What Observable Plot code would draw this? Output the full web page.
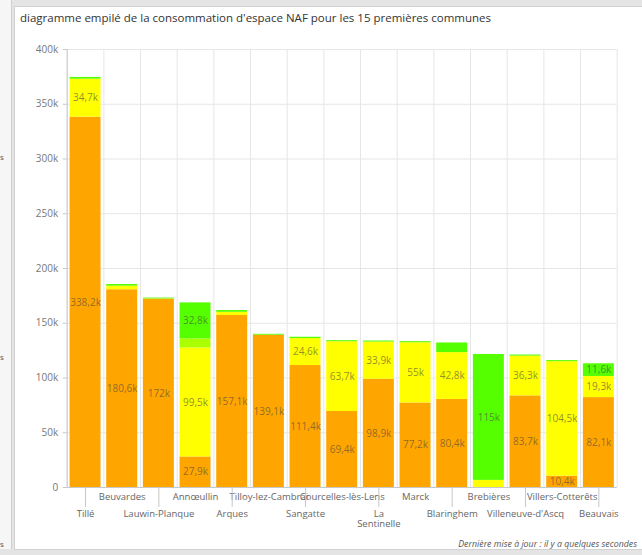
<!DOCTYPE html>
<html>
<head>
<meta charset="utf-8">
<script src="https://cdn.jsdelivr.net/npm/d3@7"></script>
<script src="https://cdn.jsdelivr.net/npm/@observablehq/plot@0.6"></script>
<style>
  html, body { margin: 0; padding: 0; }
  body { width: 642px; height: 555px; background: #e4e4e4; position: relative; overflow: hidden; font-family: "Open Sans", "Noto Sans", sans-serif; }
  #leftstrip { position: absolute; left: 0; top: 0; width: 11px; height: 549px; background: #f6f6f6; border-right: 1px solid #cfcfcf; overflow: hidden; }
  #leftstrip span { position: absolute; left: 0px; font-size: 8px; color: #555; }
  #panel { position: absolute; left: 14px; top: 6px; width: 640px; height: 542px; background: #fff; border: 1px solid #d2d2d2; }
  #title { position: absolute; left: 20px; top: 10px; font-size: 11.5px; color: #333; white-space: nowrap; }
  #chart { position: absolute; left: 0; top: 0; }
  #footer { position: absolute; right: 5px; top: 538px; font-size: 8.8px; font-style: italic; color: #555; white-space: nowrap; }
</style>
</head>
<body>
<div id="leftstrip"><span style="top:151px">s</span><span style="top:351px">s</span><span style="top:538px">s</span></div>
<div id="panel"></div>
<div id="title">diagramme empilé de la consommation d'espace NAF pour les 15 premières communes</div>
<div id="chart"></div>
<div id="footer">Dernière mise à jour : il y a quelques secondes</div>
<script>
// Communes (x categories)
const communes = ["Tillé", "Beuvardes", "Lauwin-Planque", "Annœullin", "Arques", "Tilloy-lez-Cambrai", "Sangatte", "Courcelles-lès-Lens", "La Sentinelle", "Marck", "Blaringhem", "Brebières", "Villeneuve-d'Ascq", "Villers-Cotterêts", "Beauvais"];
// Series (stack order bottom → top), values in thousands
const types = ["activité", "habitat", "mixte", "inconnu"];
const typeColors = ["#ffa500", "#ffff00", "#aaff00", "#55ff00"];
const activite = [338.2, 180.6, 172, 27.9, 157.1, 139.1, 111.4, 69.4, 98.9, 77.2, 80.4, 0, 83.7, 10.4, 82.1];
const habitat  = [34.7, 3.3, 0.2, 99.5, 2.9, 0, 24.6, 63.7, 33.9, 55, 42.8, 6.5, 36.3, 104.5, 19.3];
const mixte    = [0, 0, 0, 8.4, 0, 0, 0, 0, 0, 0, 0, 0, 0, 0, 0];
const inconnu  = [1.6, 1.5, 0.8, 32.8, 1.6, 0.8, 1.2, 1.0, 1.0, 1.0, 8.8, 115, 1.0, 1.0, 11.6];
const yTicks = [0, 50, 100, 150, 200, 250, 300, 350, 400];

const series = [activite, habitat, mixte, inconnu];
const data = [];
communes.forEach((c, i) => types.forEach((t, j) => data.push({commune: c, type: t, value: series[j][i]})));

const fmtK = v => (Number.isInteger(v) ? String(v) : v.toFixed(1).replace(".", ",")) + "k";

const W = 642, H = 535;
const ml = 66.7, mr = 25.3, mt = 49, mb = 48;
const step = (W - ml - mr) / communes.length;
const row2 = communes.filter((c, i) => i % 2 === 0);
const row1 = communes.filter((c, i) => i % 2 === 1);
const font = '"Open Sans", "Noto Sans", sans-serif';

const chart = Plot.plot({
  width: W, height: H,
  marginLeft: ml, marginRight: mr, marginTop: mt, marginBottom: mb,
  style: {background: "transparent", fontFamily: font, fontSize: "9.5px", color: "#666", overflow: "visible"},
  x: {domain: communes, paddingInner: 0.155, paddingOuter: 0.0775, round: false, axis: null},
  y: {domain: [0, 400], axis: null},
  color: {domain: types, range: typeColors},
  marks: [
    Plot.ruleY(yTicks, {stroke: "#e6e6e6"}),
    Plot.ruleX(communes, {x: d => d, dx: -step / 2, stroke: "#e6e6e6"}),
    Plot.ruleX([communes[communes.length - 1]], {x: d => d, dx: step / 2, stroke: "#e6e6e6"}),
    Plot.ruleX([communes[0]], {x: d => d, dx: -step / 2, stroke: "#c8c8c8"}),
    Plot.barY(data, {x: "commune", y: "value", fill: "type", order: types}),
    Plot.text(data, Plot.stackY({
      x: "commune", y: "value", z: "type", order: types,
      text: d => d.value >= 10 ? fmtK(d.value) : "",
      fill: "#444", fillOpacity: 0.6, fontSize: 10
    })),
    Plot.ruleY([0], {stroke: "#c8c8c8"}),
    Plot.axisY(yTicks, {
      tickSize: 4, tickPadding: 5, stroke: "#c8c8c8", color: "#777",
      tickFormat: d => d === 0 ? "0" : d + "k", label: null, fontSize: 10
    }),
    Plot.axisX(row1, {
      tickSize: 0, tickPadding: 6, color: "#666", label: null, fontSize: 9.5,
      tickFormat: d => d.replace(" ", "\n")
    }),
    Plot.axisX(row2, {
      tickSize: 20, tickPadding: 3, stroke: "#c8c8c8", color: "#666", label: null, fontSize: 9.5,
      tickFormat: d => d.replace(" ", "\n")
    })
  ]
});
document.getElementById("chart").appendChild(chart);
</script>
</body>
</html>
